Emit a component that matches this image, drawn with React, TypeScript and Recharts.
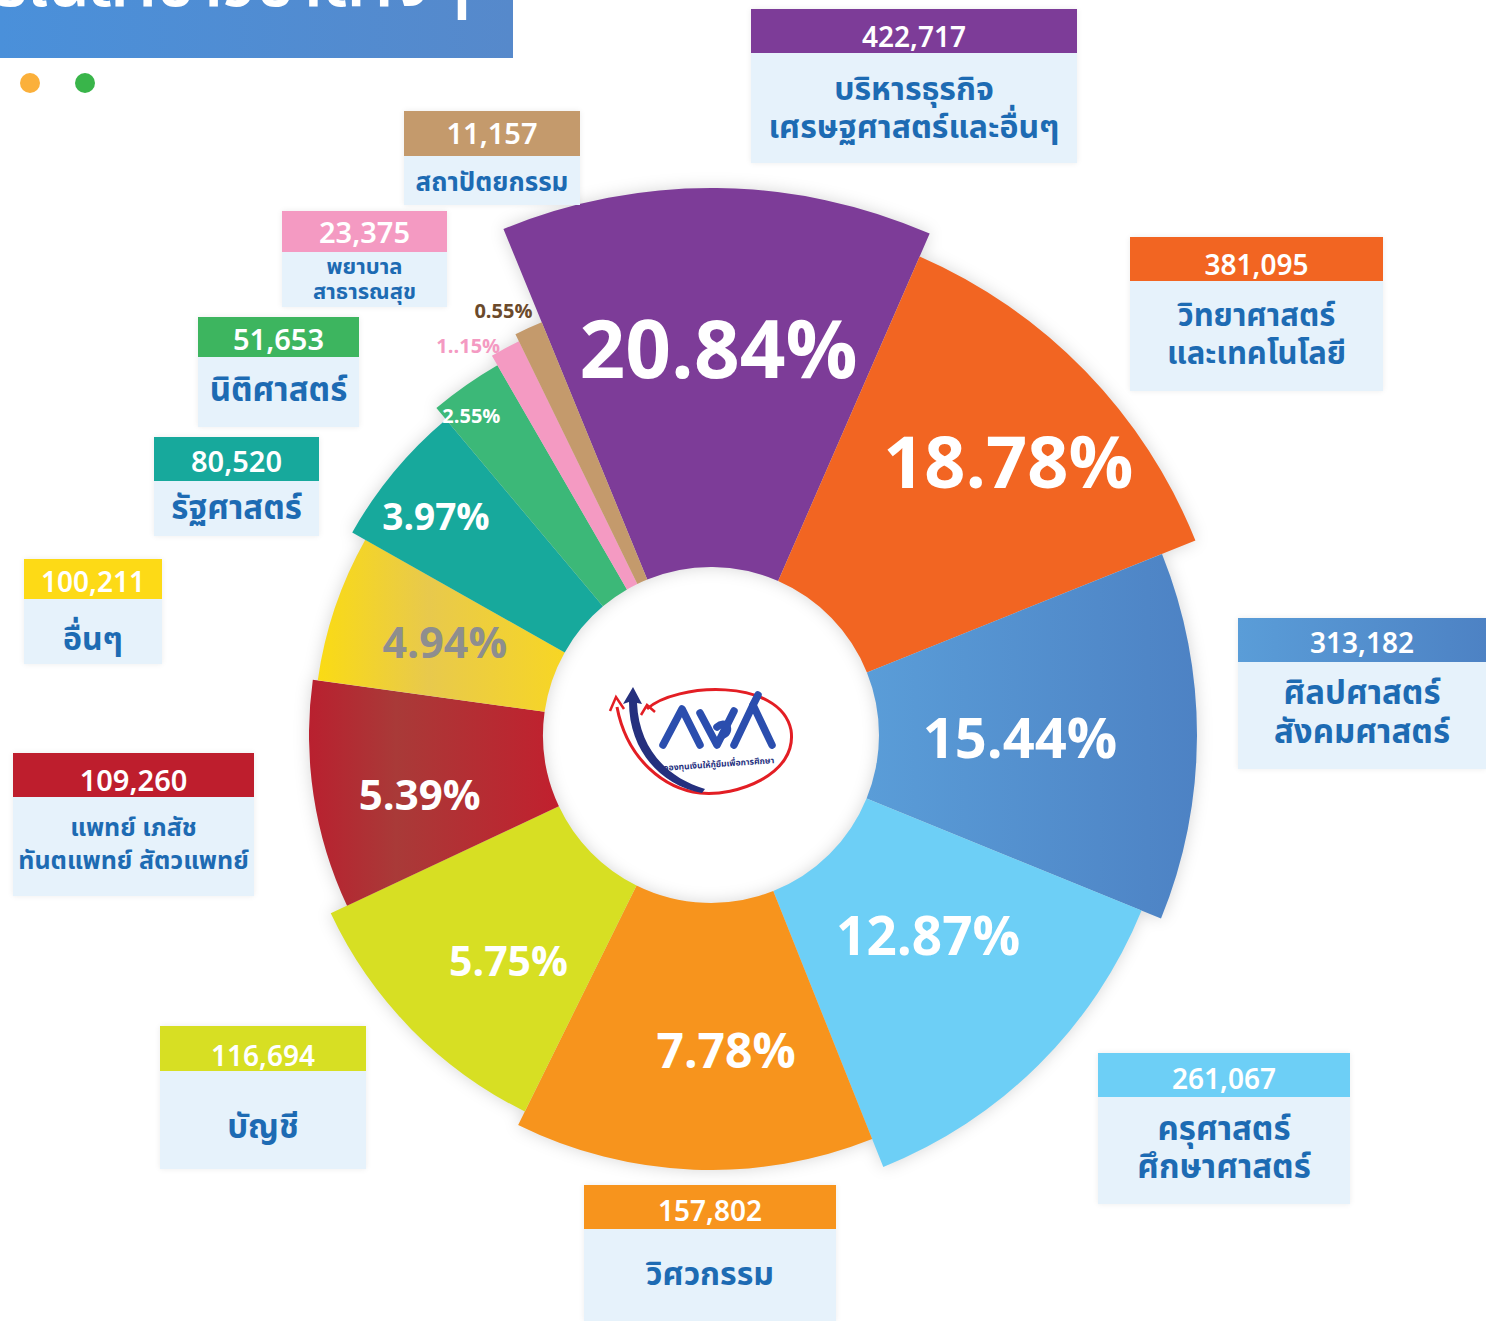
import React from "react";
import { PieChart, Pie, Cell, Sector } from "recharts";

// ปริญญาตรี แยกตามสาขาวิชา (เรียงตามเข็มนาฬิกา เริ่มจากชิ้นบนสุด)
const fieldNames = [
  ["บริหารธุรกิจ", "เศรษฐศาสตร์และอื่นๆ"],
  ["วิทยาศาสตร์", "และเทคโนโลยี"],
  ["ศิลปศาสตร์", "สังคมศาสตร์"],
  ["ครุศาสตร์", "ศึกษาศาสตร์"],
  ["วิศวกรรม"],
  ["บัญชี"],
  ["แพทย์ เภสัช", "ทันตแพทย์ สัตวแพทย์"],
  ["อื่นๆ"],
  ["รัฐศาสตร์"],
  ["นิติศาสตร์"],
  ["พยาบาล", "สาธารณสุข"],
  ["สถาปัตยกรรม"],
];
const borrowers = [422717, 381095, 313182, 261067, 157802, 116694, 109260, 100211, 80520, 51653, 23375, 11157];
const shareText = ["20.84%", "18.78%", "15.44%", "12.87%", "7.78%", "5.75%", "5.39%", "4.94%", "3.97%", "2.55%", "1..15%", "0.55%"];
// angular size of each slice as drawn in the infographic (degrees)
const drawnSweep = [45.8, 44.5, 44, 46, 48, 38.5, 33, 21.5, 20.5, 10, 4, 3.7];

const data = fieldNames.map((f, i) => ({
  name: f.join(" "),
  borrowers: borrowers[i],
  share: shareText[i],
  sweep: drawnSweep[i],
}));

// styles per slice: fill, outer radius, label radius, label angle nudge, font size, text colour
const sliceStyle = [
  { fill: "#7D3C98", head: "#7D3C98", outer: 547, lr: 382, da: 0.5, fs: 80, tc: "#ffffff" },
  { fill: "#F26522", head: "#F26522", outer: 522, lr: 401, da: 2, fs: 72, tc: "#ffffff" },
  { fill: "url(#gBlue)", head: "url", outer: 486, lr: 309, da: 1, fs: 56, tc: "#ffffff" },
  { fill: "#6DCFF6", head: "#6DCFF6", outer: 465, lr: 298, da: -2, fs: 53, tc: "#ffffff" },
  { fill: "#F7941D", head: "#F7941D", outer: 435, lr: 319, da: -5, fs: 48, tc: "#ffffff" },
  { fill: "#D7DF23", head: "#D7DF23", outer: 420, lr: 305, da: -4, fs: 41, tc: "#ffffff" },
  { fill: "url(#gRed)", head: "#BE1E2D", outer: 402, lr: 298, da: -3.5, fs: 42, tc: "#ffffff" },
  { fill: "url(#gYellow)", head: "#FDDA16", outer: 397, lr: 281, da: 0, fs: 43, tc: "#8E8E8E" },
  { fill: "#17A99C", head: "#17A99C", outer: 412, lr: 350, da: -1.5, fs: 37, tc: "#ffffff" },
  { fill: "#3CB878", head: "#3DB55F", outer: 427, lr: 398, da: -2, fs: 20, tc: "#ffffff" },
  { fill: "#F49AC2", head: "#F49AC2", outer: 438, lr: 458, da: -4, fs: 20, tc: "#F49AC2" },
  { fill: "#C49A6C", head: "#C49A6C", outer: 446, lr: 471, da: -2, fs: 20, tc: "#6B4A2B" },
];

// label boxes: left, top, width, header height, number nudge, number size,
// body height, body font size, line height, body text nudge
const boxStyle = [
  { x: 751, y: 9, w: 326, hh: 44, ny: 8, nf: 28, bh: 110, bf: 32, lh: 38, pt: 2 },
  { x: 1130, y: 237, w: 253, hh: 44, ny: 8, nf: 28, bh: 110, bf: 31, lh: 38, pt: 0 },
  { x: 1238, y: 618, w: 248, hh: 44, ny: 5, nf: 28, bh: 107, bf: 33, lh: 39, pt: -4 },
  { x: 1098, y: 1053, w: 252, hh: 44, ny: 6, nf: 28, bh: 107, bf: 33, lh: 38, pt: -4 },
  { x: 584, y: 1185, w: 252, hh: 44, ny: 6, nf: 28, bh: 92, bf: 32, lh: 38, pt: 0 },
  { x: 160, y: 1026, w: 206, hh: 45, ny: 9, nf: 28, bh: 98, bf: 33, lh: 38, pt: 16 },
  { x: 13, y: 753, w: 241, hh: 44, ny: 7, nf: 29, bh: 99, bf: 25, lh: 33, pt: -4 },
  { x: 24, y: 559, w: 138, hh: 40, ny: 5, nf: 28, bh: 65, bf: 32, lh: 38, pt: 16 },
  { x: 154, y: 437, w: 165, hh: 44, ny: 4, nf: 29, bh: 55, bf: 33, lh: 38, pt: 0 },
  { x: 198, y: 317, w: 161, hh: 40, ny: 4, nf: 29, bh: 70, bf: 33, lh: 38, pt: -2 },
  { x: 282, y: 211, w: 165, hh: 41, ny: 3, nf: 29, bh: 55, bf: 22, lh: 25, pt: 0 },
  { x: 404, y: 111, w: 176, hh: 45, ny: 2, nf: 29, bh: 49, bf: 26, lh: 30, pt: 4 },
];

const FONT = "'Noto Sans Thai', 'Noto Sans', 'Open Sans', sans-serif";
const RAD = Math.PI / 180;

const renderSlice = (props: any) => {
  const { cx, cy, startAngle, endAngle, innerRadius, index } = props;
  const s = sliceStyle[index];
  return (
    <Sector
      cx={cx}
      cy={cy}
      startAngle={startAngle}
      endAngle={endAngle}
      innerRadius={innerRadius}
      outerRadius={s.outer}
      fill={s.fill}
      stroke="none"
    />
  );
};

const renderShare = (props: any) => {
  const { cx, cy, startAngle, endAngle, index } = props;
  const s = sliceStyle[index];
  const mid = (startAngle + endAngle) / 2 - s.da;
  const x = cx + s.lr * Math.cos(-mid * RAD);
  const y = cy + s.lr * Math.sin(-mid * RAD);
  return (
    <text
      x={x}
      y={y}
      textAnchor="middle"
      dominantBaseline="central"
      fill={s.tc}
      fontSize={s.fs}
      fontWeight={700}
      fontFamily={FONT}
      stroke="none"
    >
      {data[index].share}
    </text>
  );
};

const Logo = () => (
  <svg width={200} height={130} style={{ position: "absolute", left: 605, top: 675 }}>
    {/* red ring with arrow tips */}
    <path d="M 42 34 C 70 8, 175 2, 186 55 C 193 100, 130 122, 95 118 C 60 114, 22 85, 12 32" fill="none" stroke="#E31E24" strokeWidth={3} />
    <path d="M 5 36 L 11 22 L 19 34" fill="none" stroke="#E31E24" strokeWidth={2.5} />
    <path d="M 36 40 L 42 30 L 50 37" fill="none" stroke="#E31E24" strokeWidth={2.5} />
    {/* navy arrow */}
    <path d="M 97 118 C 55 110, 24 75, 24 27 L 18 29 L 28 12 L 37 29 L 32 28 C 34 72, 60 102, 100 114 Z" fill="#25307E" />
    <g fill="none" stroke="#2B4EAE" strokeWidth={7.5} strokeLinecap="round" strokeLinejoin="round">
      <path d="M 58 70 L 77 34 L 95 70" />
      <path d="M 95 38 L 112 70 L 129 36" />
      <path d="M 112 52 C 121 44, 127 56, 118 60" />
      <path d="M 129 70 L 148 30 L 167 70" />
      <path d="M 148 30 L 153 20" />
    </g>
    <text x={114} y={92} textAnchor="middle" fontSize={8.5} fontWeight={700} fill="#25307E" fontFamily={FONT} transform="rotate(-4 114 92)">
      กองทุนเงินให้กู้ยืมเพื่อการศึกษา
    </text>
  </svg>
);

const pieProps = {
  data,
  dataKey: "sweep",
  nameKey: "name",
  cx: 711,
  cy: 735,
  innerRadius: 168,
  outerRadius: 300,
  startAngle: 112.3,
  endAngle: -247.7,
  stroke: "none",
  labelLine: false,
  isAnimationActive: false,
};

const App = () => {
  return (
    <div style={{ position: "relative", width: 1486, height: 1321, background: "#ffffff", overflow: "hidden", fontFamily: FONT }}>
      <style>{"body{margin:0;}"}</style>
      <svg width={0} height={0} style={{ position: "absolute" }}>
        <defs>
          <linearGradient id="gBlue" x1="0" y1="0" x2="1" y2="0">
            <stop offset="0%" stopColor="#5A9DD8" />
            <stop offset="100%" stopColor="#4D82C4" />
          </linearGradient>
          <linearGradient id="gRed" x1="0" y1="0" x2="1" y2="0">
            <stop offset="0%" stopColor="#B9202F" />
            <stop offset="35%" stopColor="#A93A38" />
            <stop offset="100%" stopColor="#C1202E" />
          </linearGradient>
          <linearGradient id="gYellow" x1="0" y1="0" x2="1" y2="0">
            <stop offset="0%" stopColor="#FADB14" />
            <stop offset="45%" stopColor="#E8C94C" />
            <stop offset="100%" stopColor="#F7D624" />
          </linearGradient>
        </defs>
      </svg>

      {/* title bar, cut at the top edge */}
      <div
        style={{
          position: "absolute",
          left: 0,
          top: 0,
          width: 513,
          height: 58,
          overflow: "hidden",
          background: "linear-gradient(90deg, #4A90DA, #5689CB)",
        }}
      >
        <div
          style={{
            position: "absolute",
            right: 42,
            top: -46,
            fontSize: 66,
            lineHeight: "64px",
            fontWeight: 600,
            color: "#ffffff",
            whiteSpace: "nowrap",
          }}
        >
          ปริญญาตรีในสาขาวิชาต่างๆ
        </div>
      </div>
      <div style={{ position: "absolute", left: 20, top: 73, width: 20, height: 20, borderRadius: 10, background: "#FBB03B" }} />
      <div style={{ position: "absolute", left: 75, top: 73, width: 20, height: 20, borderRadius: 10, background: "#39B54A" }} />

      {/* slices */}
      <div style={{ position: "absolute", left: 0, top: 0, filter: "drop-shadow(0px 0px 8px rgba(0,0,0,0.16))" }}>
        <PieChart width={1486} height={1321} margin={{ top: 0, right: 0, bottom: 0, left: 0 }}>
          <Pie {...pieProps} label={renderSlice}>
            {data.map((d) => (
              <Cell key={d.name} fill="transparent" />
            ))}
          </Pie>
        </PieChart>
      </div>

      {/* percentage labels */}
      <div style={{ position: "absolute", left: 0, top: 0 }}>
        <PieChart width={1486} height={1321} margin={{ top: 0, right: 0, bottom: 0, left: 0 }}>
          <Pie {...pieProps} label={renderShare}>
            {data.map((d) => (
              <Cell key={d.name} fill="transparent" />
            ))}
          </Pie>
        </PieChart>
      </div>

      <Logo />

      {data.map((d, i) => {
        const b = boxStyle[i];
        const head = sliceStyle[i].head === "url" ? "linear-gradient(90deg, #5A9DD8, #4D82C4)" : sliceStyle[i].head;
        return (
          <div
            key={d.name}
            style={{ position: "absolute", left: b.x, top: b.y, width: b.w, boxShadow: "0 0 6px rgba(0,0,0,0.08)" }}
          >
            <div
              style={{
                height: b.hh,
                background: head,
                color: "#ffffff",
                fontSize: b.nf,
                fontWeight: 600,
                lineHeight: `${b.hh + 2 * b.ny}px`,
                textAlign: "center",
                overflow: "visible",
              }}
            >
              {d.borrowers.toLocaleString("en-US")}
            </div>
            <div
              style={{
                height: b.bh,
                boxSizing: "border-box",
                paddingTop: b.pt > 0 ? b.pt : 0,
                paddingBottom: b.pt < 0 ? -b.pt : 0,
                background: "#E6F2FB",
                color: "#1D6BB3",
                fontSize: b.bf,
                fontWeight: 700,
                lineHeight: `${b.lh}px`,
                display: "flex",
                flexDirection: "column",
                justifyContent: "center",
                alignItems: "center",
                whiteSpace: "nowrap",
              }}
            >
              {fieldNames[i].map((line) => (
                <div key={line}>{line}</div>
              ))}
            </div>
          </div>
        );
      })}
    </div>
  );
};

export default App;
